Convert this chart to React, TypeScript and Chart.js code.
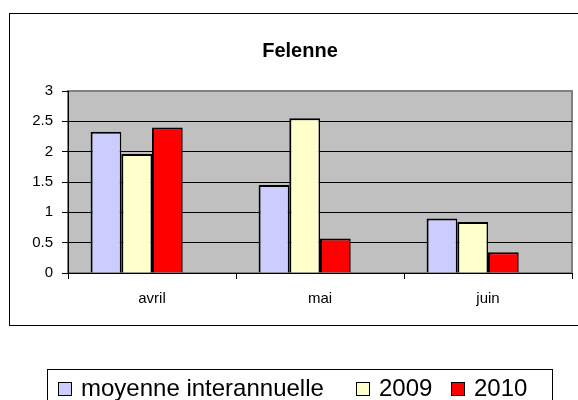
import React, { useEffect, useRef } from 'react';
import { Chart, registerables } from 'chart.js';

Chart.register(...registerables);

// ---- data ----
const chartTitle = 'Felenne';
const categories = ['avril', 'mai', 'juin'];
const seriesNames = ['moyenne interannuelle', '2009', '2010'];
const moyenneInterannuelle = [2.33, 1.45, 0.9];
const values2009 = [1.96, 2.55, 0.84];
const values2010 = [2.4, 0.57, 0.34];
// the source chart keeps a fourth, empty series slot in each group
const emptySeries: (number | null)[] = [null, null, null];
const yTickValues = [0, 0.5, 1, 1.5, 2, 2.5, 3];

const FONT = '"Liberation Sans", Arial, Helvetica, sans-serif';

const framePlugin = {
  id: 'excelFrame',
  beforeDraw(chart: any) {
    const ctx = chart.ctx;
    const { left, top, right, bottom } = chart.chartArea;
    ctx.save();
    ctx.fillStyle = '#ffffff';
    ctx.fillRect(0, 0, chart.width, chart.height);
    ctx.strokeStyle = '#000000';
    ctx.lineWidth = 1;
    ctx.strokeRect(9.5, 13.5, 620, 312);
    ctx.fillStyle = '#C0C0C0';
    ctx.fillRect(left, top, right - left, bottom - top);
    ctx.strokeStyle = '#808080';
    ctx.lineWidth = 2;
    ctx.strokeRect(left, top, right - left, bottom - top);
    ctx.restore();
  },
};

const legendPlugin = {
  id: 'excelLegend',
  afterDraw(chart: any, _args: any, opts: any) {
    const ctx = chart.ctx;
    ctx.save();
    ctx.strokeStyle = '#000000';
    ctx.lineWidth = 1;
    ctx.strokeRect(47.5, 369.5, 505, 60);
    ctx.font = `24px ${FONT}`;
    ctx.textBaseline = 'middle';
    ctx.textAlign = 'left';
    const cy = 389;
    const starts: number[] = opts.starts;
    chart.data.datasets.forEach((ds: any, i: number) => {
      if (!ds.label) return;
      const x = starts[i];
      const s = 14;
      ctx.fillStyle = ds.backgroundColor;
      ctx.fillRect(x, cy - s / 2, s, s);
      ctx.strokeStyle = '#000000';
      ctx.lineWidth = 1;
      ctx.strokeRect(x + 0.5, cy - s / 2 + 0.5, s - 1, s - 1);
      ctx.fillStyle = '#000000';
      ctx.fillText(ds.label, x + s + 9, cy);
    });
    ctx.restore();
  },
};

const barBorder = { top: 2, left: 2, right: 1.5, bottom: 0 };

export default function App() {
  const ref = useRef<HTMLCanvasElement>(null);

  useEffect(() => {
    const canvas = ref.current;
    if (!canvas) return;
    const chart = new Chart(canvas, {
      type: 'bar',
      data: {
        labels: categories,
        datasets: [
          {
            label: seriesNames[0],
            data: moyenneInterannuelle,
            backgroundColor: '#CCCCFF',
            borderColor: '#000000',
            borderWidth: barBorder,
          },
          {
            label: seriesNames[1],
            data: values2009,
            backgroundColor: '#FFFFCC',
            borderColor: '#000000',
            borderWidth: barBorder,
          },
          {
            label: seriesNames[2],
            data: values2010,
            backgroundColor: '#FF0000',
            borderColor: '#000000',
            borderWidth: barBorder,
          },
          {
            label: '',
            data: emptySeries,
            backgroundColor: 'rgba(0,0,0,0)',
            borderWidth: 0,
          },
        ],
      },
      options: {
        responsive: false,
        animation: false,
        devicePixelRatio: 1,
        layout: { padding: { left: 28, right: 6, top: 0, bottom: 0 } },
        datasets: { bar: { categoryPercentage: 0.731, barPercentage: 1 } } as any,
        plugins: {
          legend: { display: false },
          tooltip: { enabled: false },
          title: {
            display: true,
            text: chartTitle,
            color: '#000000',
            font: { family: FONT, size: 20, weight: 'bold', lineHeight: 1.2 },
            padding: { top: 39.5, bottom: 27.5 },
          },
          excelLegend: { starts: [58, 356, 451] },
        } as any,
        scales: {
          x: {
            grid: {
              display: true,
              drawOnChartArea: false,
              drawTicks: true,
              tickLength: 6,
              tickColor: '#000000',
              offset: true,
            },
            border: { display: true, color: '#000000', width: 1 },
            ticks: { color: '#000000', font: { family: FONT, size: 15 }, padding: 11 },
            afterFit: (s: any) => {
              s.height = 127;
            },
          },
          y: {
            min: 0,
            max: 3,
            afterBuildTicks: (s: any) => {
              s.ticks = yTickValues.map((v) => ({ value: v }));
            },
            ticks: {
              color: '#000000',
              font: { family: FONT, size: 15 },
              padding: 9,
              callback: (v: any) => String(v),
            },
            grid: {
              color: (c: any) => (c.tick && c.tick.value === 3 ? 'rgba(0,0,0,0)' : '#000000'),
              tickColor: '#000000',
              tickLength: 6,
              lineWidth: 1,
            },
            border: { display: true, color: '#000000', width: 1 },
            afterFit: (s: any) => {
              s.width = 40;
            },
          },
        } as any,
      },
      plugins: [framePlugin, legendPlugin],
    } as any);
    return () => chart.destroy();
  }, []);

  return (
    <div style={{ position: 'absolute', left: 0, top: 0, width: 578, height: 400, background: '#ffffff' }}>
      <canvas ref={ref} width={578} height={400} style={{ display: 'block', width: 578, height: 400 }} />
    </div>
  );
}
